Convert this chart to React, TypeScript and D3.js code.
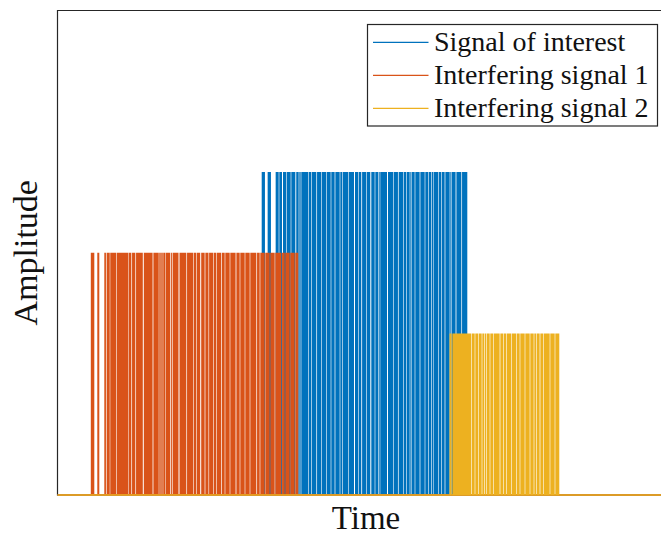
import * as d3 from "d3";
import React from "react";

// time axis is in samples, amplitude in arbitrary units
const timeRange = [0, 617];
const ampRange = [0, 3];

const seriesNames = ["Signal of interest", "Interfering signal 1", "Interfering signal 2"];
const seriesColors = ["#0072BD", "#D95319", "#EDB120"];
const amplitudes = [2, 1.5, 1];

// burst start / end for each signal
const interestSpan = [204.2, 409.8];
const interf1Span = [33.3, 240.8];
const interf2Span = [392, 501.8];

// gaps inside each burst: [centre, width]
const interestGaps = [
  [208.8, 2.7], [215.8, 4.7], [221.5, 0.6], [225, 1.0], [229.2, 0.6], [233.5, 0.6],
  [238.3, 0.9], [241.5, 0.6], [243.5, 0.6], [250.8, 0.6], [254.2, 0.6], [259.2, 0.7],
  [264.2, 0.6], [269.2, 0.6], [273.5, 0.6], [277.5, 0.7], [282.5, 0.6], [284.8, 0.6],
  [290.8, 0.6], [297, 1.0], [300.8, 0.6], [304.2, 0.8], [309.2, 0.6], [313.3, 1.0],
  [317.5, 0.6], [320.8, 0.6], [322.5, 0.5], [330, 1.0], [335.8, 0.6], [340.8, 0.7],
  [345.8, 0.6], [349.2, 0.6], [352.5, 0.6], [354.2, 0.5], [357.5, 0.6], [362.5, 0.7],
  [367.5, 0.6], [370.8, 0.6], [374.2, 0.6], [375.8, 0.5], [380.8, 0.6], [384.2, 0.6],
  [387.5, 0.7], [392.5, 0.6], [394.2, 0.5], [398.5, 0.8], [404.2, 0.7],
];
const interf1Gaps = [
  [38.3, 3.0], [44.3, 5.0], [48.8, 0.7], [52.5, 0.5], [58.8, 0.6], [70.8, 0.5],
  [74.2, 0.7], [78.2, 0.7], [85.8, 1.0], [95.5, 0.8], [101.5, 0.5], [103.5, 0.5],
  [105.5, 0.5], [108, 0.5], [113.2, 0.8], [115.2, 0.6], [121.5, 1.0], [129.2, 0.7],
  [135.8, 0.6], [139.2, 0.6], [143.2, 1.0], [147.5, 0.7], [151.3, 0.6], [155.8, 0.6],
  [159.2, 0.6], [164, 0.7], [167.5, 0.6], [172.5, 0.6], [178.5, 0.8], [182.5, 0.6],
  [187.5, 0.6], [192.5, 0.6], [199.2, 0.7], [202.5, 0.6], [207.5, 0.6], [212.5, 0.6],
  [217.5, 0.6], [224.2, 0.7], [227.5, 0.6], [232.5, 0.6], [237.5, 0.6],
];
const interf2Gaps = [
  [394.5, 0.7], [414.2, 0.6], [417.5, 0.6], [420.8, 0.6], [424.5, 0.6], [427, 0.6],
  [429.2, 0.6], [432.5, 0.6], [435.8, 0.6], [442.5, 0.7], [445.8, 0.6], [449.2, 0.6],
  [454.2, 0.6], [459.2, 0.6], [462.5, 0.6], [467.5, 0.6], [472.5, 0.6], [476.5, 0.6],
  [478.8, 0.6], [482.5, 0.7], [485.8, 0.6], [492.5, 0.6], [497.5, 0.6],
];

const spans = [interestSpan, interf1Span, interf2Span];
const gaps = [interestGaps, interf1Gaps, interf2Gaps];

const width = 661;
const height = 536;
const margin = { left: 57.5, top: 10.5, right: 674.5, bottom: 495 };

// turn span + gaps into a list of (t, v) corner points
function toPoints(span, gapList, amp) {
  const pts = [{ t: timeRange[0], v: 0 }];
  let start = span[0];
  const sorted = [...gapList].sort((a, b) => a[0] - b[0]);
  const ends = sorted.map((g) => [g[0] - g[1] / 2, g[0] + g[1] / 2]);
  ends.push([span[1], span[1]]);
  ends.forEach(([gs, ge]) => {
    pts.push({ t: start, v: 0 }, { t: start, v: amp }, { t: gs, v: amp }, { t: gs, v: 0 });
    start = ge;
  });
  pts.push({ t: timeRange[1], v: 0 });
  return pts;
}

export default function App() {
  const x = d3.scaleLinear().domain(timeRange).range([margin.left, margin.right]);
  const y = d3.scaleLinear().domain(ampRange).range([margin.bottom, margin.top]);

  const area = d3
    .area()
    .x((d) => x(d.t))
    .y0(y(0))
    .y1((d) => y(d.v));
  const zeroLine = d3
    .line()
    .x((d) => x(d))
    .y(() => y(0));

  const serif = "'Liberation Serif', 'Times New Roman', serif";

  return (
    <svg width={width} height={height} style={{ position: "absolute", left: 0, top: 0 }}>
      <rect width={width} height={height} fill="#fff" />
      {/* axes box, under the data */}
      <path
        d={`M${x(timeRange[1])},${y(ampRange[1])}H${x(0)}V${y(0)}H${x(timeRange[1])}`}
        fill="none"
        stroke="#262626"
        strokeWidth={1.2}
      />
      {seriesNames.map((name, i) => (
        <g key={name}>
          <path d={area(toPoints(spans[i], gaps[i], amplitudes[i]))} fill={seriesColors[i]} />
          <path d={zeroLine(timeRange)} stroke={seriesColors[i]} strokeWidth={1.6} fill="none" />
        </g>
      ))}

      <text
        x={(x(timeRange[0]) + x(timeRange[1])) / 2}
        y={529}
        textAnchor="middle"
        fontFamily={serif}
        fontSize={33}
        fill="#111"
      >
        Time
      </text>
      <text
        transform={`translate(37,${(y(0) + y(ampRange[1])) / 2}) rotate(-90)`}
        textAnchor="middle"
        fontFamily={serif}
        fontSize={34}
        fill="#111"
      >
        Amplitude
      </text>

      {/* legend */}
      <g>
        <rect x={367.5} y={24.5} width={290} height={101.5} fill="#fff" stroke="#262626" strokeWidth={1.2} />
        {seriesNames.map((name, i) => (
          <g key={name} transform={`translate(0,${42.3 + i * 33})`}>
            <line x1={373} x2={428.5} stroke={seriesColors[i]} strokeWidth={1.3} />
            <text x={434} y={8.2} fontFamily={serif} fontSize={28} fill="#111">
              {name}
            </text>
          </g>
        ))}
      </g>
    </svg>
  );
}
